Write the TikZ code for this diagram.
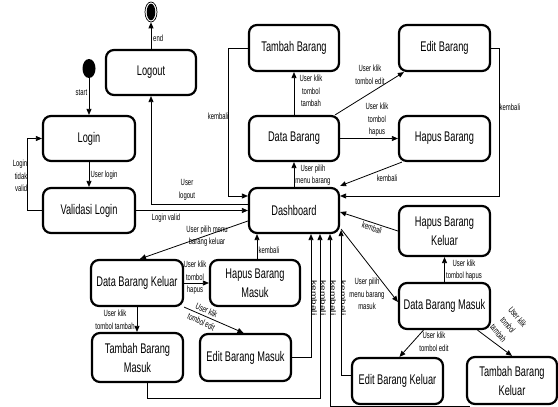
\documentclass[tikz,border=0pt]{standalone}
\usepackage{fontspec}
\usepackage{graphicx}
\usetikzlibrary{arrows.meta,shapes.geometric}
\newfontfamily\cfam[FakeStretch=0.66]{Liberation Sans}
\newfontfamily\ufam{Liberation Sans}
\newcommand\nfont{\cfam\fontsize{14}{19}\selectfont}
\newcommand\lfont{\cfam\fontsize{9}{12.5}\selectfont}
\newcommand\vkem{\scalebox{1}[0.66]{\ufam\fontsize{10}{12}\selectfont kembali}}
\tikzset{
  st/.style={draw, line width=2.2pt, rounded corners=8pt, minimum width=90pt,
    minimum height=45pt, align=center, font=\nfont, inner sep=0pt},
  ar/.style={-{Triangle[length=6pt,width=5pt]}, line width=0.8pt},
  lb/.style={font=\lfont, align=center, inner sep=0pt},
}
\begin{document}
\begin{tikzpicture}[x=1pt,y=-1pt]
\useasboundingbox (0,0) rectangle (558,407);
% states
\node[ellipse, fill=black, minimum width=13pt, minimum height=19pt, inner sep=0pt] (s) at (89,68.5) {};
\node[ellipse, draw, line width=0.7pt, minimum width=12pt, minimum height=20pt, inner sep=0pt] (en) at (151,12) {};
\fill (en.center) ellipse (4.3pt and 8.3pt);
\node[st] (logout) at (151,72.5) {Logout};
\node[st, minimum width=92pt] (login) at (89,138.5) {Login};
\node[st, minimum width=92pt] (val) at (89,210.5) {Validasi Login};
\node[st, minimum height=46pt] (tb) at (294,48) {Tambah Barang};
\node[st, minimum width=91pt, minimum height=46pt] (eb) at (444.5,48) {Edit Barang};
\node[st] (db) at (294,138.5) {Data Barang};
\node[st, minimum width=91pt] (hb) at (444.5,138.5) {Hapus Barang};
\node[st] (dash) at (294,210.5) {Dashboard};
\node[st, minimum width=91pt, minimum height=50pt] (hbk) at (444.5,231) {Hapus Barang\\Keluar};
\node[st, minimum width=91pt, minimum height=46pt] (dbm) at (444.5,306) {Data Barang Masuk};
\node[st, minimum width=91pt, minimum height=46pt] (ebk) at (397.5,381) {Edit Barang Keluar};
\node[st, minimum height=47pt] (tbk) at (512,380.5) {Tambah Barang\\Keluar};
\node[st, minimum width=92pt, minimum height=46pt] (dbk) at (137,283) {Data Barang Keluar};
\node[st, minimum height=46pt] (hbm) at (255,283) {Hapus Barang\\Masuk};
\node[st, minimum width=91pt, minimum height=49pt] (tbm) at (137.5,357.5) {Tambah Barang\\Masuk};
\node[st, minimum width=91pt, minimum height=47pt] (ebm) at (245.5,357.5) {Edit Barang Masuk};
% connectors
\draw[ar] (s) -- (login);
\draw[ar] (login) -- (val);
\draw[ar] (val.west) -- ++(-15,0) |- (login.west);
\draw[ar] (val.east) -- (dash.west);
\draw[ar] ([yshift=6.5pt]dash.west) -| (logout.south);
\draw[ar] (logout.north) -- (en.south);
\draw[ar] (tb.west) -- ++(-20,0) |- ([yshift=14.5pt]dash.west);
\draw[ar] (db) -- (tb);
\draw[ar] ([xshift=-5pt]db.north east) -- ([xshift=6pt]eb.south west);
\draw[ar] (db.east) -- (hb.west);
\draw[ar] (dash.north) -- (db.south);
\draw[ar] ([xshift=4pt]hb.south west) -- ([yshift=1pt]dash.north east);
\draw[ar] (eb.east) -- ++(8,0) |- ([yshift=14.5pt]dash.east);
\draw[ar] ([yshift=-10.5pt]dash.west) -- ([xshift=3pt]dbk.north);
\draw[ar] (dbk.east) -- (hbm.west);
\draw[ar] (dbk.south) -- (dbk.south |- tbm.north);
\draw[ar] (dbk.south east) -- ([xshift=-2pt]ebm.north);
\draw[ar] ([xshift=2pt]hbm.north) -- ([xshift=2pt]hbm.north |- dash.south);
\draw[ar] (ebm.east) -| ([xshift=17pt]dash.south);
\draw[ar] ([xshift=10pt]tbm.south) -- ++(0,15) -| ([xshift=26pt]dash.south);
\draw[ar] ([xshift=4pt,yshift=-1pt]tbk.south west) -| ([xshift=36pt]dash.south);
\draw[ar] ([yshift=6pt]ebk.west) -| ([xshift=1pt,yshift=4pt]dash.south east);
\draw[ar] ([xshift=1pt,yshift=5pt]dash.south east) -- ([yshift=4pt]dbm.west);
\draw[ar] (hbk.west) -- ([yshift=-1.5pt]dash.east);
\draw[ar] (dbm.north) -- (hbk.south);
\draw[ar] ([xshift=-21pt]dbm.south) -- ([xshift=2pt]ebk.north);
\draw[ar] ([xshift=33pt]dbm.south) -- (tbk.north);
% labels
\node[lb, anchor=east] (l1) at (87.5,93) {start};
\node[lb, anchor=west] (l2) at (153,38) {end};
\node[lb, anchor=west] (l3) at (90.5,175) {User login};
\node[lb, anchor=east, align=right] (l4) at (27.5,176) {Login\\tidak\\valid};
\node[lb] (l5) at (166,218) {Login valid};
\node[lb] (l6) at (187,190) {User\\logout};
\node[lb, anchor=east] (l7) at (228.5,116) {kembali};
\node[lb] (l8) at (311,91) {User klik\\tombol\\tambah};
\node[lb] (l9) at (370,75) {User klik\\tombol edit};
\node[lb] (l10) at (377,120) {User klik\\tombol\\hapus};
\node[lb] (l11) at (313,175) {User pilih\\menu barang};
\node[lb] (l12) at (387,178) {kembali};
\node[lb, anchor=west] (l13) at (499.5,107) {kembali};
\node[lb] (l14) at (207,236) {User pilih menu\\barang keluar};
\node[lb] (l15) at (195,278) {User klik\\tombol\\hapus};
\node[lb] (l16) at (115,320) {User klik\\tombol tambah};
\node[lb, rotate=-25] (l17) at (204,316) {User klik\\tombol edit};
\node[lb, anchor=west] (l18) at (258.5,250) {kembali};
\node[inner sep=0pt, rotate=-90] (l19) at (314.5,298) {\vkem};
\node[inner sep=0pt, rotate=-90] (l20) at (323.5,298) {\vkem};
\node[inner sep=0pt, rotate=-90] (l21) at (333.5,298) {\vkem};
\node[inner sep=0pt, rotate=-90] (l22) at (343.5,298) {\vkem};
\node[lb, rotate=-18] (l23) at (372,228) {kembali};
\node[lb] (l24) at (367,294) {User pilih\\menu barang\\masuk};
\node[lb] (l25) at (464,270) {User klik\\tombol hapus};
\node[lb] (l26) at (434,342) {User klik\\tombol edit};
\node[lb, rotate=-50] (l27) at (508,325) {User klik\\tombol\\tambah};
\end{tikzpicture}
\end{document}
